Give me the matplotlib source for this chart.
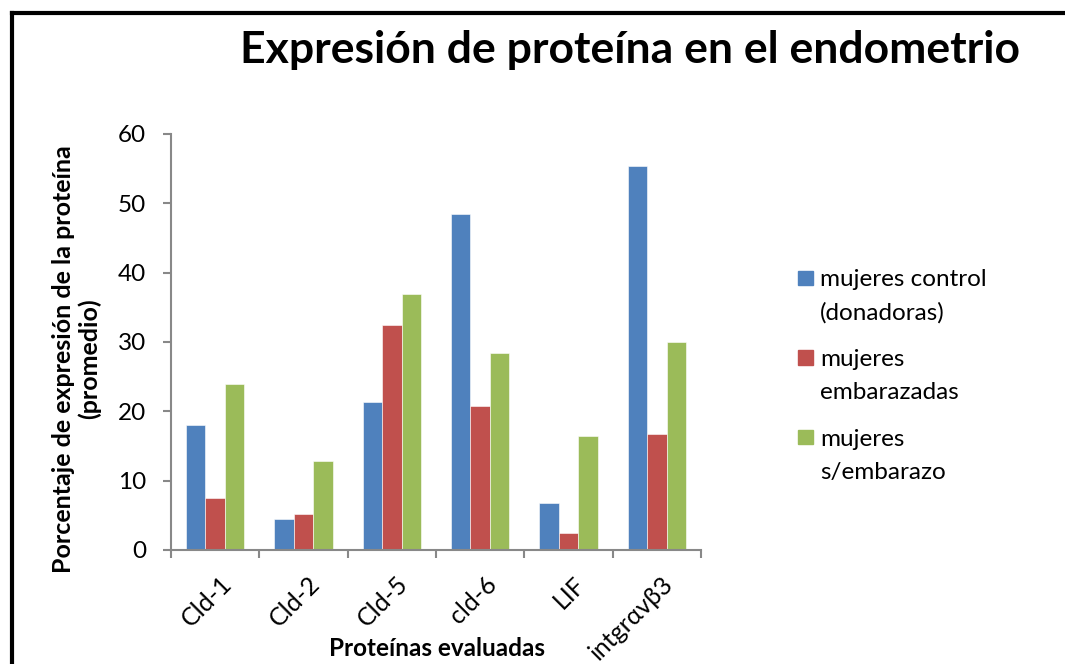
import numpy as np
import matplotlib
matplotlib.use("Agg")
import matplotlib.pyplot as plt
from matplotlib.lines import Line2D
from matplotlib.patches import Rectangle

plt.rcParams['font.family'] = ['Lato', 'DejaVu Sans']

# ── Data ───────────────────────────────────────────────────────────
proteinas = ["Cld-1", "Cld-2", "Cld-5", "cld-6", "LIF", "intgr\u03b1v\u03b23"]
control = [18.0, 4.5, 21.4, 48.5, 6.8, 55.4]
embarazadas = [7.5, 5.2, 32.5, 20.8, 2.4, 16.8]
sin_embarazo = [24.0, 12.9, 36.9, 28.4, 16.4, 30.0]

series_labels = ["mujeres control\n(donadoras)",
                 "mujeres\nembarazadas",
                 "mujeres\ns/embarazo"]
colors = ["#4f81bd", "#c0504d", "#9bbb59"]
_AXIS = "#888888"

W, H = 1065, 664
fig = plt.figure(figsize=(W / 100, H / 100), dpi=100)
ax = fig.add_axes([0.1606, 0.1717, 0.4976, 0.6265])

x = np.arange(len(proteinas))
w = 0.22
for i, (vals, c, lab) in enumerate(zip([control, embarazadas, sin_embarazo],
                                       colors, series_labels)):
    ax.bar(x + (i - 1) * w, vals, width=w, color=c, label=lab,
           edgecolor="white", linewidth=0.4)

ax.set_xlim(-0.5, len(proteinas) - 0.5)
ax.set_ylim(0, 60)
ax.set_yticks(range(0, 61, 10))

# category boundaries carry the x ticks
ax.set_xticks(np.arange(-0.5, len(proteinas)), minor=False)
ax.set_xticklabels([])
ax.set_xticks(x + 0.05, minor=True)
ax.set_xticklabels(proteinas, minor=True, rotation=45, ha='right',
                   rotation_mode='anchor', fontsize=18)
ax.tick_params(axis='x', which='minor', length=0, pad=16)
ax.tick_params(axis='x', which='major', length=6, width=1.5, color=_AXIS)
ax.tick_params(axis='y', length=6, width=1.5, color=_AXIS, labelsize=17.5,
               pad=12)

for s in ['top', 'right']:
    ax.spines[s].set_visible(False)
for s in ['left', 'bottom']:
    ax.spines[s].set_color(_AXIS)
    ax.spines[s].set_linewidth(1.5)

ax.set_ylabel("Porcentaje de expresi\u00f3n de la prote\u00edna\n(promedio)",
              fontsize=18, fontweight='bold', linespacing=1.15)
ax.yaxis.set_label_coords(-0.132, 0.459)
ax.set_xlabel("Prote\u00ednas evaluadas", fontsize=17.5, fontweight='bold')
ax.xaxis.label.set_va('center')
ax.xaxis.set_label_coords(0.502, -0.236)

fig.text(0.592, 0.925, "Expresi\u00f3n de prote\u00edna en el endometrio",
         ha='center', va='center', fontsize=32, fontweight='bold')

# legend: square beside the first line of each two-line label
key_x, text_x = 798, 820      # px from the left
first_y, step = 278, 79.5     # px from the top
sq = 14.5
for i, (c, lab) in enumerate(zip(colors, series_labels)):
    yc = first_y + i * step
    fig.add_artist(Rectangle((key_x / W, 1 - (yc + sq / 2) / H), sq / W, sq / H,
                             color=c, transform=fig.transFigure))
    for k, line in enumerate(lab.split("\n")):
        fig.text(text_x / W, 1 - (yc + k * 33) / H, line, fontsize=17.5,
                 ha='left', va='center_baseline')

# border of the chart area (top and left edges)
fig.add_artist(Line2D([0.0113, 1.0], [0.980, 0.980], color='black',
                      linewidth=3, transform=fig.transFigure))
fig.add_artist(Line2D([0.0113, 0.0113], [0.0, 0.980], color='black',
                      linewidth=3, transform=fig.transFigure))

fig.savefig("out.png", dpi=100, facecolor='white')
